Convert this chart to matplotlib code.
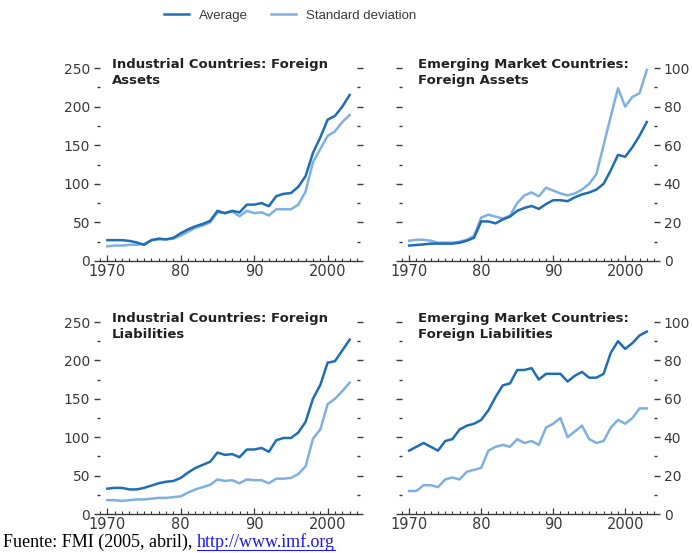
import matplotlib
matplotlib.use("Agg")
import matplotlib.pyplot as plt
from matplotlib.ticker import MultipleLocator
from matplotlib.lines import Line2D

plt.rcParams['font.family'] = ['DejaVu Sans']

years = list(range(1970, 2004))

ind_assets_avg = [27, 27, 27, 26, 24, 21, 27, 29, 28, 30, 36, 41, 45, 48, 52, 65, 62, 65, 63, 73,
                  73, 75, 71, 84, 87, 88, 96, 110, 140, 160, 183, 188, 200, 215]
ind_assets_sd = [19, 20, 20, 21, 21, 22, 27, 28, 28, 29, 33, 38, 43, 46, 50, 63, 62, 64, 58, 65,
                 62, 63, 59, 67, 67, 67, 73, 90, 128, 145, 162, 168, 180, 189]

em_assets_avg = [8, 8.3, 8.6, 9, 9, 9, 9, 9.5, 10.5, 12, 20.5, 20.5, 19.5, 21.5, 23, 26, 27.5,
                 28.5, 27, 29.5, 31.5, 31.5, 31, 33, 34.5, 35.5, 37, 40, 47, 55, 54, 59, 65, 72]
em_assets_sd = [10.5, 11, 11, 10.5, 9.5, 9.5, 9.5, 10, 11, 13, 22.5, 24, 23, 22, 23.5, 30, 34,
                35.5, 33.5, 38, 36.5, 35, 34, 35, 37, 40, 45, 60, 75, 89.5, 80, 85, 87, 99]

ind_liab_avg = [33, 34, 34, 32, 32, 34, 37, 40, 42, 43, 47, 54, 60, 64, 68, 80, 77, 78, 74, 84,
                84, 86, 81, 96, 99, 99, 106, 120, 150, 168, 197, 199, 213, 227]
ind_liab_sd = [18, 18, 17, 18, 19, 19, 20, 21, 21, 22, 23, 28, 32, 35, 38, 45, 43, 44, 40, 45,
               44, 44, 40, 46, 46, 47, 52, 62, 98, 110, 143, 150, 160, 171]

em_liab_avg = [33, 35, 37, 35, 33, 38, 39, 44, 46, 47, 49, 54, 61, 67, 68, 75, 75, 76, 70, 73,
               73, 73, 69, 72, 74, 71, 71, 73, 84, 90, 86, 89, 93, 95]
em_liab_sd = [12, 12, 15, 15, 14, 18, 19, 18, 22, 23, 24, 33, 35, 36, 35, 39, 37, 38, 36, 45,
              47, 50, 40, 43, 46, 39, 37, 38, 45, 49, 47, 50, 55, 55]

titles = ["Industrial Countries: Foreign\nAssets",
          "Emerging Market Countries:\nForeign Assets",
          "Industrial Countries: Foreign\nLiabilities",
          "Emerging Market Countries:\nForeign Liabilities"]
series = [(ind_assets_avg, ind_assets_sd), (em_assets_avg, em_assets_sd),
          (ind_liab_avg, ind_liab_sd), (em_liab_avg, em_liab_sd)]
legend_labels = ["Average", "Standard deviation"]
xtick_vals = [1970, 1980, 1990, 2000]
xtick_labels = ["1970", "80", "90", "2000"]
source_text = "Fuente: FMI (2005, abril), "
source_link = "http://www.imf.org"

DARK = "#1f6db5"
LIGHT = "#7fb0e2"
TXT = "#3a3a3a"

fig = plt.figure(figsize=(6.92, 5.53), dpi=100)
W, H = 692, 553
boxes = [
    (100, 68, 357, 261),
    (402, 68, 654, 261),
    (100, 322, 357, 514),
    (402, 322, 654, 514),
]
title_dx = [12, 16, 12, 16]
for i, (x0, y0, x1, y1) in enumerate(boxes):
    ax = fig.add_axes([x0 / W, 1 - y1 / H, (x1 - x0) / W, (y1 - y0) / H])
    avg, sd = series[i]
    l1, = ax.plot(years, avg, color=DARK, lw=1.8, label=legend_labels[0], zorder=3)
    l2, = ax.plot(years, sd, color=LIGHT, lw=1.8, label=legend_labels[1], zorder=2)
    ax.set_xlim(1969, 2004)
    left = (i % 2 == 0)
    if left:
        ax.set_ylim(0, 250)
        ax.yaxis.set_major_locator(MultipleLocator(50))
        ax.yaxis.set_minor_locator(MultipleLocator(25))
        ax.tick_params(axis='y', which='both', left=True, right=True,
                       labelleft=True, labelright=False)
    else:
        ax.set_ylim(0, 100)
        ax.yaxis.set_major_locator(MultipleLocator(20))
        ax.yaxis.set_minor_locator(MultipleLocator(10))
        ax.tick_params(axis='y', which='both', left=True, right=True,
                       labelleft=False, labelright=True)
    ax.tick_params(axis='y', which='major', length=4.5, width=1.0, color=TXT,
                   direction='out', labelsize=10, labelcolor=TXT, pad=2.5)
    ax.tick_params(axis='y', which='minor', length=2.5, width=1.0, color=TXT,
                   direction='out')
    ax.set_xticks(xtick_vals)
    ax.set_xticklabels(xtick_labels)
    ax.xaxis.set_minor_locator(MultipleLocator(1))
    ax.tick_params(axis='x', which='major', length=4, width=0.9, direction='in',
                   color=TXT, labelsize=10.5, labelcolor=TXT, pad=2)
    ax.tick_params(axis='x', which='minor', length=2, width=0.8, direction='in',
                   color=TXT)
    for s in ['top', 'left', 'right']:
        ax.spines[s].set_visible(False)
    ax.spines['bottom'].set_color(TXT)
    ax.spines['bottom'].set_linewidth(1.0)
    ax.patch.set_alpha(0)
    for k, line in enumerate(titles[i].split("\n")):
        fig.text((x0 + title_dx[i]) / W, 1 - (y0 + 16 * k) / H, line, ha='left',
                 va='baseline', fontsize=9.5, fontweight='bold', color='#222222')
    if i == 0:
        handles = [l1, l2]

fig.legend(handles, legend_labels, loc='center', bbox_to_anchor=(290 / W, 1 - 16 / H),
           ncol=2, frameon=False, prop={'family': 'Liberation Sans', 'size': 9.5},
           handlelength=1.9, handletextpad=0.7, columnspacing=1.8, labelcolor=TXT)

t1 = fig.text(3 / W, 1 - 547 / H, source_text, ha='left', va='baseline',
              fontsize=13, family='Liberation Serif', color='black')
fig.canvas.draw()
r = fig.canvas.get_renderer()
bb = t1.get_window_extent(r)
t2 = fig.text(bb.x1 / W, 1 - 547 / H, source_link, ha='left', va='baseline',
              fontsize=13, family='Liberation Serif', color='#1a1aee')
fig.canvas.draw()
bb2 = t2.get_window_extent(r)
yline = (H - 549.5) / H
fig.add_artist(Line2D([bb2.x0 / W, bb2.x1 / W], [yline, yline], color='#1a1aee', lw=0.8))

fig.savefig("out.png", dpi=100)
